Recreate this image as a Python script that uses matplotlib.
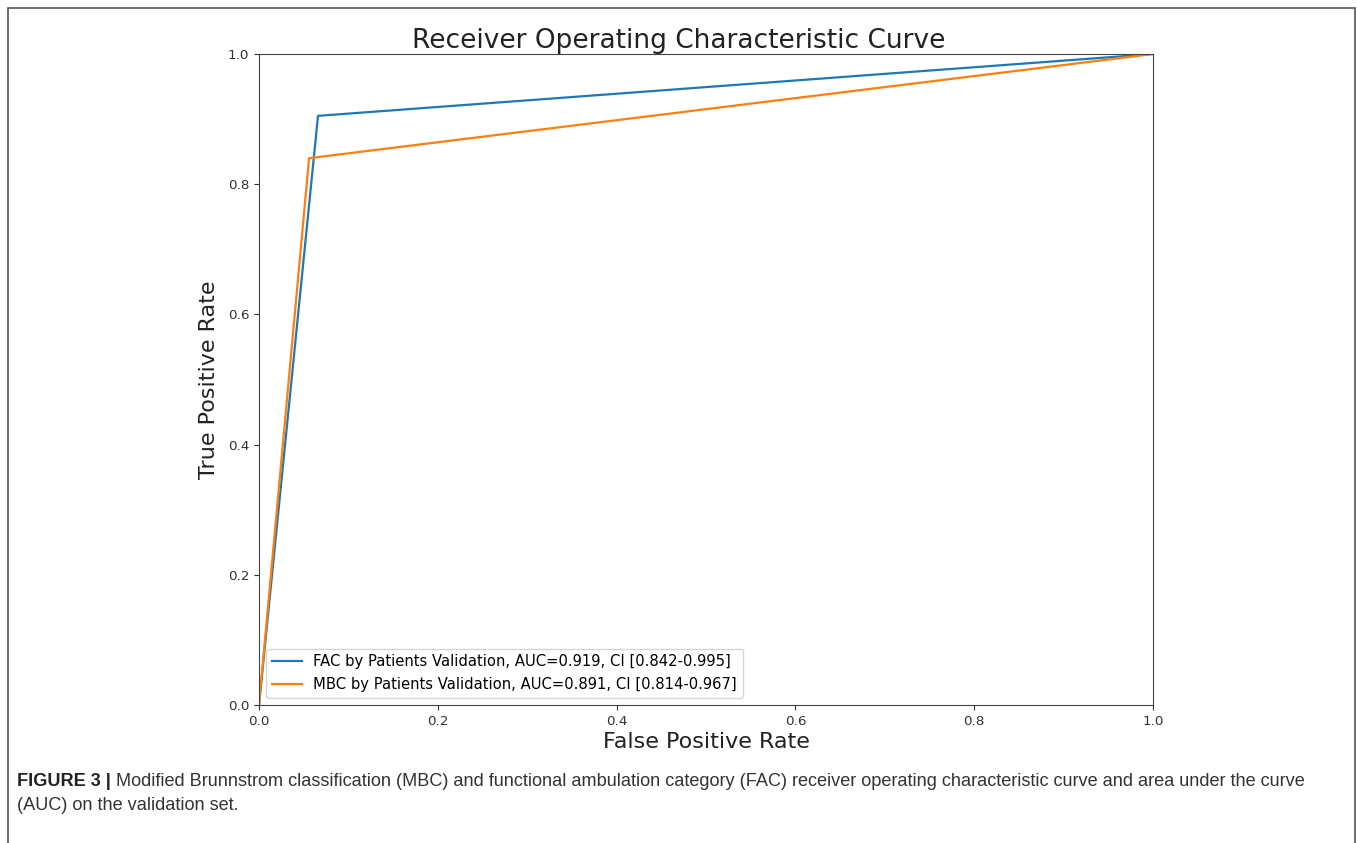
import matplotlib
matplotlib.use("Agg")
import matplotlib.pyplot as plt
from matplotlib.patches import Rectangle

fac_fpr = [0.0, 0.066, 1.0]
fac_tpr = [0.0, 0.905, 1.0]
mbc_fpr = [0.0, 0.056, 1.0]
mbc_tpr = [0.0, 0.840, 1.0]
fac_label = "FAC by Patients Validation, AUC=0.919, CI [0.842-0.995]"
mbc_label = "MBC by Patients Validation, AUC=0.891, CI [0.814-0.967]"
ticks = [0.0, 0.2, 0.4, 0.6, 0.8, 1.0]
caption_bold = "FIGURE 3 | "
caption_line1 = ("Modified Brunnstrom classification (MBC) and functional ambulation category (FAC) "
                 "receiver operating characteristic curve and area under the curve")
caption_line2 = "(AUC) on the validation set."

W, H = 1357, 843
fig = plt.figure(figsize=(W/100, H/100), dpi=100)
fig.patches.append(Rectangle((8/W, -0.05), (1355-8)/W, 1.05 - 8/H,
                             transform=fig.transFigure, fill=False,
                             edgecolor="#555555", linewidth=1.2))

ax = fig.add_axes([259/W, 1-705/H, (1153-259)/W, (705-54)/H])
ax.plot(fac_fpr, fac_tpr, color="#1f77b4", lw=1.6, label=fac_label)
ax.plot(mbc_fpr, mbc_tpr, color="#ff7f0e", lw=1.6, label=mbc_label)
ax.set_xlim(0, 1)
ax.set_ylim(0, 1)
ax.set_xticks(ticks)
ax.set_yticks(ticks)
ax.tick_params(labelsize=9.7, colors="#333333")
for s in ax.spines.values():
    s.set_color("#444444")
ax.set_xlabel("False Positive Rate", fontsize=16, color="#222222", labelpad=3)
ax.set_ylabel("True Positive Rate", fontsize=16, color="#222222", labelpad=6)
ax.set_title("Receiver Operating Characteristic Curve", fontsize=19, color="#222222",
             x=(679-259)/(1153-259), pad=3)
ax.legend(loc="lower left", fontsize=10.6, frameon=True, handlelength=2.0)

cap_fam = ["Liberation Sans", "DejaVu Sans"]
cap_fs = 13.1
t1 = fig.text(17/W, 1-782/H, caption_bold, fontsize=cap_fs, fontweight="bold",
              family=cap_fam, va="center", color="#222222")
fig.canvas.draw()
bb = t1.get_window_extent()
fig.text(bb.x1/W, 1-782/H, caption_line1,
         fontsize=cap_fs, family=cap_fam, va="center", color="#333333")
fig.text(17/W, 1-806/H, caption_line2, fontsize=cap_fs,
         family=cap_fam, va="center", color="#333333")

fig.savefig("out.png", dpi=100)
